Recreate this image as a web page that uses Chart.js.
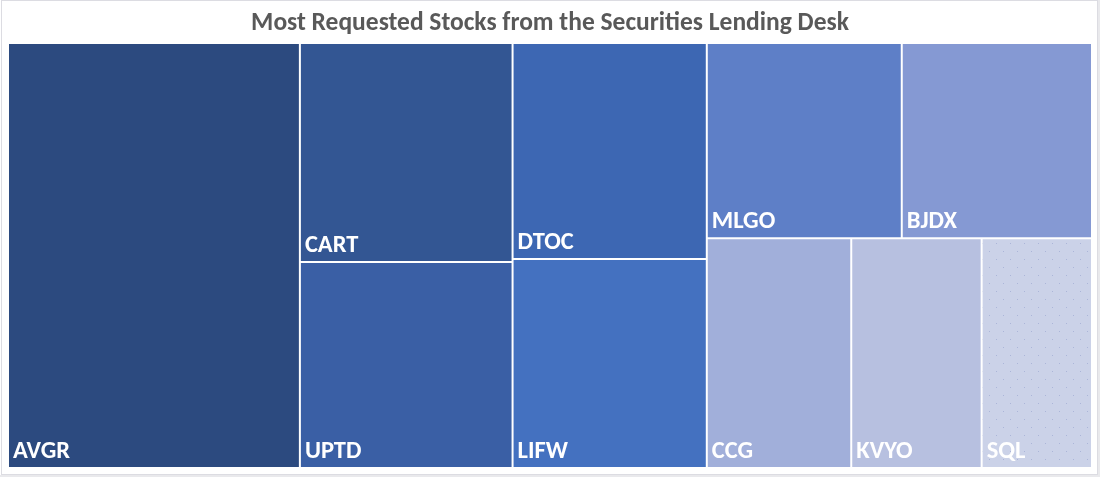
<!DOCTYPE html>
<html>
<head>
<meta charset="utf-8">
<script src="https://cdn.jsdelivr.net/npm/chart.js@4.4.1/dist/chart.umd.min.js"></script>
<style>
  html, body { margin: 0; padding: 0; background: #ffffff; }
  #wrap { position: relative; width: 1100px; height: 477px; }
</style>
</head>
<body>
<div id="wrap"><canvas id="c"></canvas></div>
<script>
// ---- data ----
const tickers = ['AVGR', 'CART', 'UPTD', 'DTOC', 'LIFW', 'MLGO', 'BJDX', 'CCG', 'KVYO', 'SQL'];
const shares  = [26.9, 10.1, 9.5, 9.1, 8.8, 8.25, 8.05, 7.2, 6.5, 5.5];
const cellColors = ['#2C4A7F', '#335693', '#3A5FA5', '#3D67B3', '#4471C0',
                    '#5E7FC7', '#8599D3', '#A1AFDA', '#B7C0E0', '#CBD2E8'];
const titleText = 'Most Requested Stocks from the Securities Lending Desk';

// dotted texture for the last cell
function dotPattern(base) {
  const c = document.createElement('canvas');
  c.width = 14; c.height = 16;
  const g = c.getContext('2d');
  g.fillStyle = base; g.fillRect(0, 0, 14, 16);
  g.fillStyle = 'rgba(140,152,200,0.5)';
  g.fillRect(2, 3, 1, 1);
  g.fillRect(9, 11, 1, 1);
  return g.createPattern(c, 'repeat');
}
const fills = cellColors.map((c, i) => i === cellColors.length - 1 ? dotPattern(c) : c);

// squarified layout
function worst(row, s) {
  let sum = 0, mx = -Infinity, mn = Infinity;
  for (const a of row) { sum += a; mx = Math.max(mx, a); mn = Math.min(mn, a); }
  const s2 = s * s, sum2 = sum * sum;
  return Math.max(s2 * mx / sum2, sum2 / (s2 * mn));
}
function squarify(values, x, y, w, h) {
  const total = values.reduce((a, b) => a + b, 0);
  const areas = values.map(v => v * w * h / total);
  const rects = [];
  let i = 0;
  while (i < areas.length) {
    const s = Math.min(w, h);
    let row = [areas[i]], j = i + 1;
    while (j < areas.length) {
      const next = row.concat(areas[j]);
      if (worst(next, s) <= worst(row, s)) { row = next; j++; } else break;
    }
    const rs = row.reduce((a, b) => a + b, 0);
    if (w >= h) {
      const cw = rs / h; let cy = y;
      for (const a of row) { const ch = a / cw; rects.push({x: x, y: cy, w: cw, h: ch}); cy += ch; }
      x += cw; w -= cw;
    } else {
      const rh = rs / w; let cx = x;
      for (const a of row) { const rw = a / rh; rects.push({x: cx, y: y, w: rw, h: rh}); cx += rw; }
      y += rh; h -= rh;
    }
    i = j;
  }
  return rects;
}

class TreemapController extends Chart.DatasetController {
  update(mode) {
    const meta = this._cachedMeta;
    this.updateElements(meta.data, 0, meta.data.length, mode);
  }
  updateElements(rects, start, count, mode) {
    const xs = this._cachedMeta.xScale, ys = this._cachedMeta.yScale;
    const x0 = xs.getPixelForValue(0), x1 = xs.getPixelForValue(1);
    const y0 = ys.getPixelForValue(0), y1 = ys.getPixelForValue(1);
    const vals = this.getDataset().data;
    const lay = squarify(vals, Math.min(x0, x1), Math.min(y0, y1), Math.abs(x1 - x0), Math.abs(y1 - y0));
    for (let i = start; i < start + count; i++) {
      const r = lay[i];
      const props = {
        x: r.x + r.w / 2, y: r.y, base: r.y + r.h, width: r.w, height: r.h,
        horizontal: false, inflateAmount: 0,
        borderSkipped: {top: false, bottom: false, left: false, right: false},
        options: this.resolveDataElementOptions(i, mode)
      };
      this.updateElement(rects[i], i, props, mode);
    }
  }
  draw() {
    const ctx = this.chart.ctx;
    const meta = this._cachedMeta;
    meta.data.forEach(el => el.draw(ctx));
    const labels = this.chart.data.labels;
    ctx.save();
    ctx.fillStyle = '#ffffff';
    ctx.font = 'bold 24.5px Carlito, Lato, "Open Sans", sans-serif';
    ctx.textAlign = 'left';
    ctx.textBaseline = 'alphabetic';
    meta.data.forEach((el, i) => {
      const left = el.x - el.width / 2;
      ctx.fillText(labels[i], left + 5, el.base - 10);
    });
    ctx.restore();
  }
}
TreemapController.id = 'treemap';
TreemapController.defaults = { dataElementType: 'bar' };
Chart.register(TreemapController);

const frame = {
  id: 'frame',
  beforeDraw(chart) {
    const ctx = chart.ctx;
    ctx.save();
    ctx.fillStyle = '#e9e9ec';
    ctx.fillRect(1098, 0, 2, 477);
    ctx.fillRect(0, 475, 1100, 2);
    ctx.strokeStyle = '#dcdce2';
    ctx.lineWidth = 1;
    ctx.strokeRect(1.5, 0.5, 1096, 474);
    ctx.restore();
  }
};

new Chart(document.getElementById('c'), {
  type: 'treemap',
  data: {
    labels: tickers,
    datasets: [{
      data: shares,
      backgroundColor: fills,
      borderColor: '#ffffff',
      borderWidth: 1
    }]
  },
  options: {
    responsive: true,
    maintainAspectRatio: false,
    animation: false,
    layout: { padding: { left: 8, right: 8, top: 0, bottom: 9 } },
    scales: {
      x: { type: 'linear', min: 0, max: 1, display: false },
      y: { type: 'linear', min: 0, max: 1, reverse: true, display: false }
    },
    plugins: {
      legend: { display: false },
      tooltip: { enabled: false },
      title: {
        display: true,
        text: titleText,
        color: '#595959',
        font: { family: 'Carlito, Lato, "Open Sans", sans-serif', size: 25.5, weight: 'bold', lineHeight: 1 },
        padding: { top: 11, bottom: 6.5 }
      }
    }
  },
  plugins: [frame]
});
</script>
</body>
</html>
